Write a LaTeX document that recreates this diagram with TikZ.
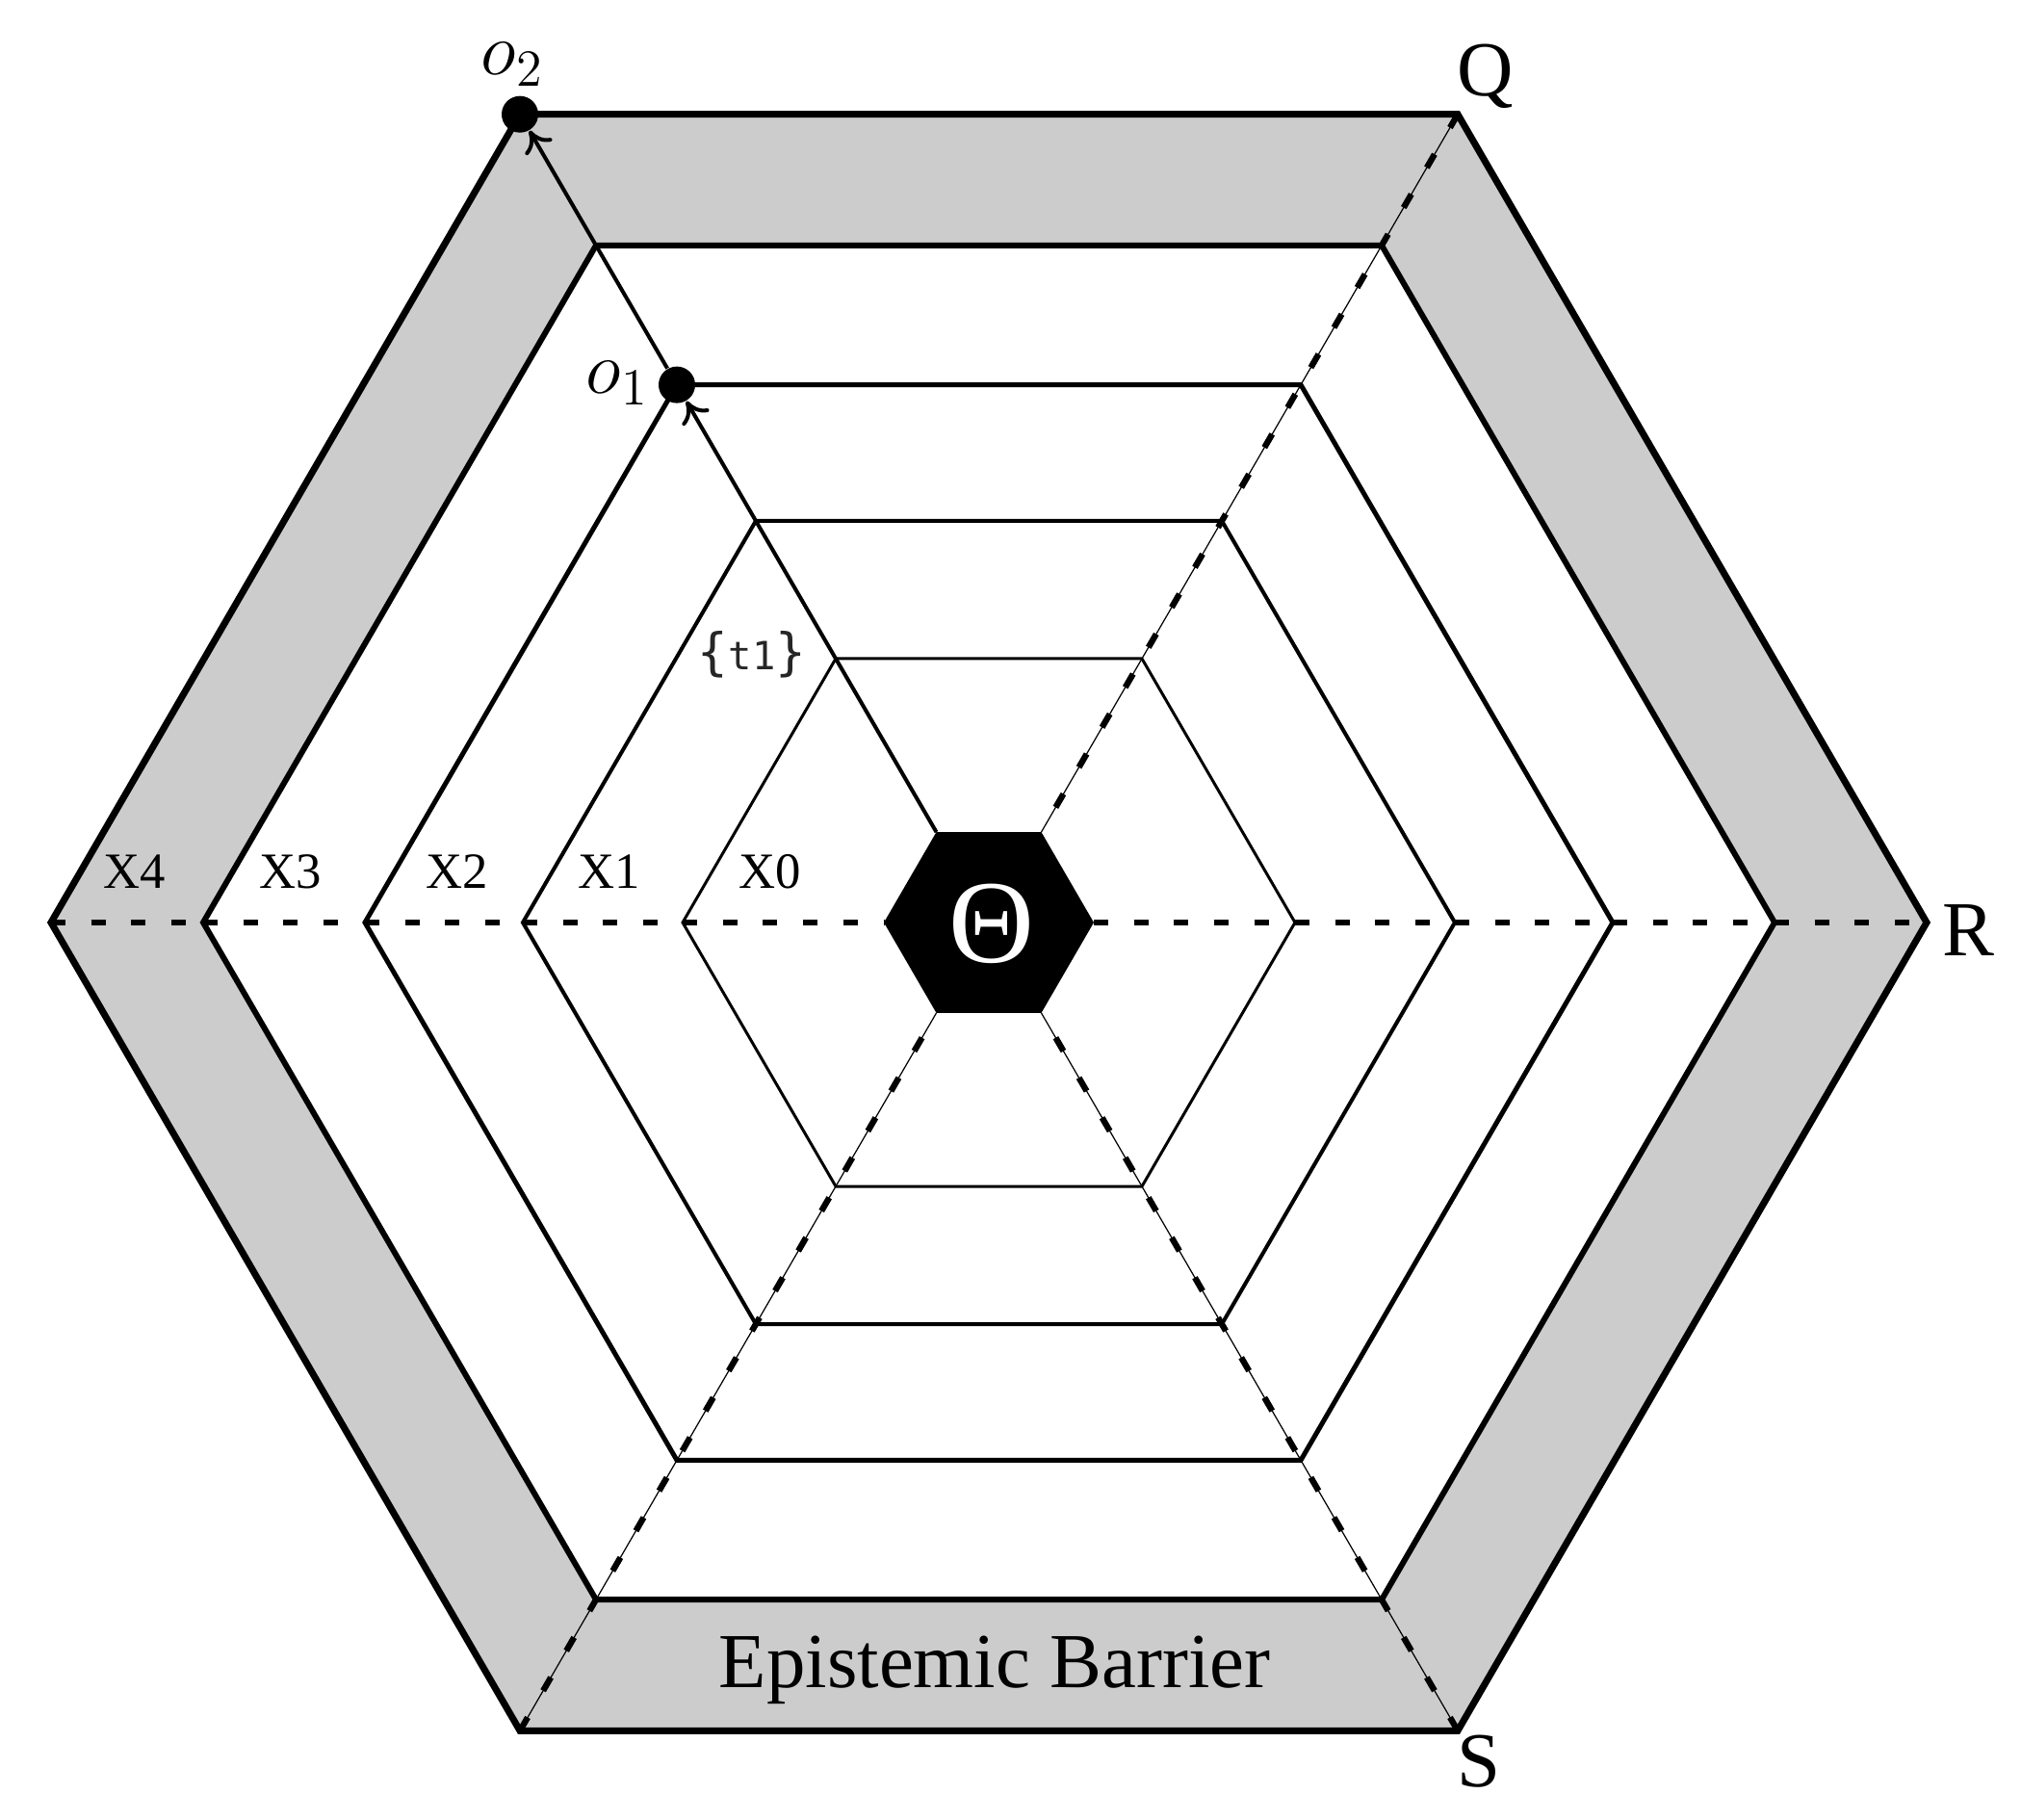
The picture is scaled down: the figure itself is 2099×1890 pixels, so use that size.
\RequirePackage{fix-cm}
\documentclass[tikz,border=0pt]{standalone}
\usepackage{fontspec}
\setmainfont{Liberation Serif}
\newfontfamily\monofont{DejaVu Sans Mono}
\usetikzlibrary{arrows.meta}
\begin{document}
\begin{tikzpicture}[x=0.1mm,y=-0.1mm,
  axisdash/.style={line width=1.9pt, dash pattern=on 1.5mm off 2.67mm},
  diagline/.style={line width=0.35pt},
  diagdash/.style={line width=1.8pt, dash pattern=on 1.6mm off 3.2mm},
  ray/.style={line width=1.14pt, -{To[length=2.1mm, width=3.2mm]}},
  dot/.style={circle, fill=black, inner sep=0pt, minimum size=3.8mm},
  biglabel/.style={font=\fontsize{23}{27}\selectfont, anchor=base, inner sep=0pt},
  bandlabel/.style={font=\fontsize{15}{18}\selectfont, anchor=base, inner sep=0pt},
  mathlabel/.style={font=\fontsize{22}{26}\selectfont, anchor=base, inner sep=0pt}]
\useasboundingbox (0,0) rectangle (2099,1890);
\foreach \n/\r in {th/109,a/318,b/484,c/648,d/816,e/974}{
  \foreach \k in {0,...,5}{
    \coordinate (\n\k) at ({1027+\r*cos(60*\k)},{958-0.995*\r*sin(60*\k)});
  }
}
% gray barrier ring
\fill[black!20, even odd rule] (e0)--(e1)--(e2)--(e3)--(e4)--(e5)--cycle
  (d0)--(d1)--(d2)--(d3)--(d4)--(d5)--cycle;
% hexagons
\draw[line width=0.85pt] (a0)--(a1)--(a2)--(a3)--(a4)--(a5)--cycle;
\draw[line width=1.14pt] (b0)--(b1)--(b2)--(b3)--(b4)--(b5)--cycle;
\draw[line width=1.42pt] (c0)--(c1)--(c2)--(c3)--(c4)--(c5)--cycle;
\draw[line width=1.7pt] (d0)--(d1)--(d2)--(d3)--(d4)--(d5)--cycle;
\draw[line width=2pt] (e0)--(e1)--(e2)--(e3)--(e4)--(e5)--cycle;
% horizontal axis
\draw[axisdash] (th0)--(a0) (a0)--(b0) (b0)--(c0) (c0)--(d0) (d0)--(e0);
\draw[axisdash] (e3)--(d3) (d3)--(c3) (c3)--(b3) (b3)--(a3) (a3)--(th3);
% diagonal rays
\draw[diagline] (e1)--(th1) (e4)--(th4) (e5)--(th5);
\draw[diagdash] (e1)--(th1) (e4)--(th4) (e5)--(th5);
% centre
\fill (th0)--(th1)--(th2)--(th3)--(th4)--(th5)--cycle;
\node[text=white, font=\fontsize{35}{40}\selectfont, anchor=base, inner sep=0pt] (theta) at (1030,1000) {Θ};
% outcome points and arrows
\node[dot] (o1) at (c2) {};
\node[dot] (o2) at (e2) {};
\draw[ray] (th2) -- (o1);
\draw[ray] (o1) -- (o2);
% labels
\node[mathlabel] (lo1) at (641,408.5) {$o_1$};
\node[mathlabel] (lo2) at (532,78) {$o_2$};
\node[biglabel] (Q) at (1543,100) {Q};
\node[biglabel] (R) at (2044,993) {R};
\node[biglabel] (S) at (1536,1855) {S};
\node[biglabel] (eb) at (1033,1752.5) {Epistemic Barrier};
\node[bandlabel] (x4) at (140,923) {X4};
\node[bandlabel] (x3) at (302,923) {X3};
\node[bandlabel] (x2) at (475,923) {X2};
\node[bandlabel] (x1) at (633,923) {X1};
\node[bandlabel] (x0) at (800,923) {X0};
\node[anchor=base, inner sep=0pt, text=black!85] (t1) at (781,696)
  {\monofont{\fontsize{15}{17}\selectfont\{}{\fontsize{11.5}{13}\selectfont t1}{\fontsize{15}{17}\selectfont\}}};
\end{tikzpicture}
\end{document}
